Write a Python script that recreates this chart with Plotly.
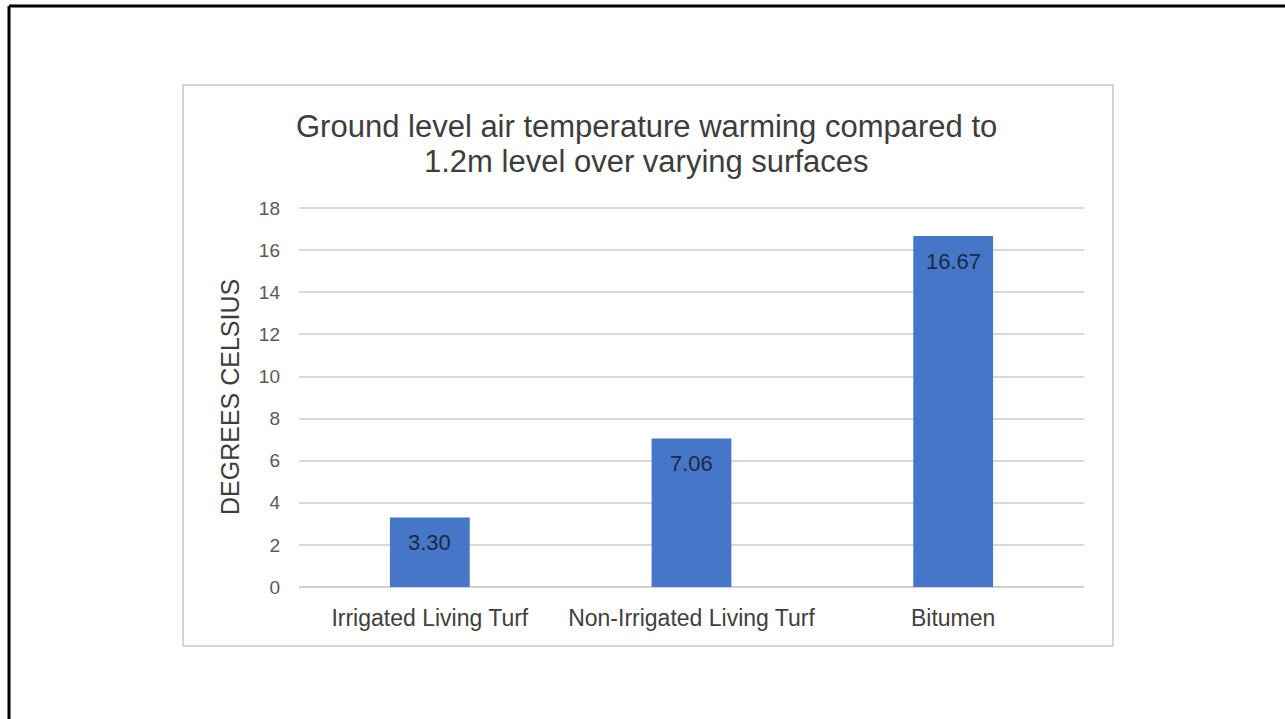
import plotly.graph_objects as go

# chart data
categories = ['Irrigated Living Turf', 'Non-Irrigated Living Turf', 'Bitumen']
warming = [3.30, 7.06, 16.67]
y_ticks = [0, 2, 4, 6, 8, 10, 12, 14, 16, 18]

title_lines = ['Ground level air temperature warming compared to',
               '1.2m level over varying surfaces']
y_title = 'DEGREES CELSIUS'

FONT = 'Liberation Sans, Arial'

# plot area in screen pixels
L, R, T, B = 299, 1084, 206, 587
W, H = R - L, B - T


def px_x(x):
    return (x - L) / W


def px_y(y):
    return (B - y) / H


fig = go.Figure()
fig.add_trace(go.Bar(
    x=categories,
    y=warming,
    marker=dict(color='#4576C8', line=dict(width=0)),
    width=0.305,
    showlegend=False,
))

# value labels near the top inside each bar
for c, v in zip(categories, warming):
    fig.add_annotation(
        x=c, y=v, text=f'{v:.2f}', showarrow=False,
        yanchor='middle', yshift=-25,
        font=dict(family=FONT, size=22, color='#1c2a45'),
    )

for line, yc in zip(title_lines, [126, 161]):
    fig.add_annotation(
        xref='paper', yref='paper', x=px_x(646), y=px_y(yc),
        text=line, showarrow=False, xanchor='center', yanchor='middle',
        font=dict(family=FONT, size=31, color='#3d3d3d'),
    )
fig.add_annotation(
    xref='paper', yref='paper', x=px_x(230), y=px_y(397),
    text=y_title, showarrow=False, textangle=-90,
    xanchor='center', yanchor='middle',
    font=dict(family=FONT, size=25, color='#3d3d3d'),
)

# chart frame and page border
fig.add_shape(type='rect', xref='paper', yref='paper',
              x0=px_x(183), x1=px_x(1113), y0=px_y(646), y1=px_y(85),
              line=dict(color='#d6d6d6', width=2), layer='below')
fig.add_shape(type='line', xref='paper', yref='paper',
              x0=px_x(9), x1=px_x(1300), y0=px_y(6), y1=px_y(6),
              line=dict(color='black', width=3))
fig.add_shape(type='line', xref='paper', yref='paper',
              x0=px_x(9), x1=px_x(9), y0=px_y(6), y1=px_y(730),
              line=dict(color='black', width=3))

fig.update_xaxes(
    showgrid=False, showline=False, ticks='',
    ticklabelstandoff=15,
    tickfont=dict(family=FONT, size=23, color='#404040'),
)
fig.update_yaxes(
    range=[0, 18.1], tickvals=y_ticks,
    showgrid=True, gridcolor='#d9d9d9', gridwidth=1.5,
    zeroline=True, zerolinecolor='#d0d0d0', zerolinewidth=1.5,
    showline=False, ticks='', ticklabelstandoff=18,
    tickfont=dict(family=FONT, size=19, color='#595959'),
)

fig.update_layout(
    width=1285, height=719,
    margin=dict(l=L, r=1285 - R, t=T, b=719 - B),
    plot_bgcolor='white', paper_bgcolor='white',
    bargap=0.695,
)

# drop the default page margin so the figure sits at the window origin
fig.write_html('out.html', config={'displayModeBar': False},
               post_script="document.body.style.margin='0px';")
